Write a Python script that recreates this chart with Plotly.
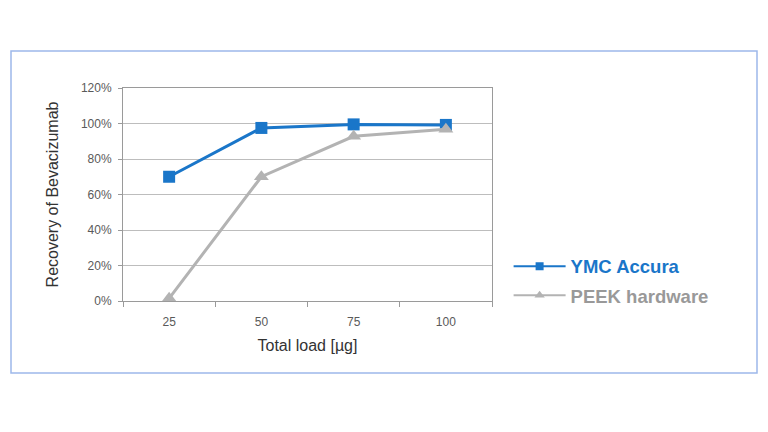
import plotly.graph_objects as go

loads = ["25", "50", "75", "100"]
ymc_accura = [70, 97.5, 99.5, 99.2]
peek_hardware = [1.5, 70, 92.8, 96.8]
y_ticks = [0, 20, 40, 60, 80, 100, 120]
y_tick_labels = ["0%", "20%", "40%", "60%", "80%", "100%", "120%"]

blue = "#1a76c9"
gray = "#b3b3b3"

series = [
    ("YMC Accura", ymc_accura, blue, blue, "square", 12, 8),
    ("PEEK hardware", peek_hardware, gray, "#999999", "triangle-up", 13, 9),
]

fig = go.Figure()
for i, (name, vals, col, txtcol, sym, msize, lsize) in enumerate(series):
    fig.add_trace(go.Scatter(
        x=loads, y=vals, mode="lines+markers", name=name, showlegend=False,
        line=dict(color=col, width=3),
        marker=dict(symbol=sym, size=msize, color=col),
    ))
    # legend entry (thinner line, smaller marker as in the reference)
    fig.add_trace(go.Scatter(
        x=[None], y=[None], mode="lines+markers",
        name="<b><span style='color:%s'>%s</span></b>" % (txtcol, name),
        legendgroup="g%d" % i,
        line=dict(color=col, width=2),
        marker=dict(symbol=sym, size=lsize, color=col),
    ))

axis_font = dict(family="Liberation Sans, Arial", size=12, color="#5a5a5a")
title_font = dict(family="Liberation Sans, Arial", size=16, color="#333333")
fig.update_layout(
    width=768, height=432,
    margin=dict(l=123, r=276, t=88, b=131),
    paper_bgcolor="white", plot_bgcolor="white",
    font=dict(family="Liberation Sans, Arial"),
    showlegend=True,
    legend=dict(
        x=1.045, y=0.25, xanchor="left", yanchor="top",
        font=dict(family="Liberation Sans, Arial", size=18.5, color="#999999"),
        tracegroupgap=2, itemwidth=52,
        bgcolor="rgba(0,0,0,0)",
    ),
    xaxis=dict(
        type="category", tickson="boundaries", ticks="outside", ticklen=5,
        tickcolor="#9a9a9a", showline=True, linecolor="#9a9a9a", linewidth=1,
        mirror=True, showgrid=False, tickfont=axis_font, ticklabelstandoff=10,
        title=dict(text="Total load [µg]", font=title_font, standoff=11),
        range=[-0.5, 3.5],
    ),
    yaxis=dict(
        range=[0, 120], tickvals=y_ticks, ticktext=y_tick_labels,
        ticks="outside", ticklen=4, tickcolor="#9a9a9a",
        showline=True, linecolor="#9a9a9a", linewidth=1, mirror=True,
        showgrid=True, gridcolor="#bdbdbd", gridwidth=1,
        zeroline=False, tickfont=axis_font, ticklabelstandoff=4,
        title=dict(text="Recovery of Bevacizumab", font=title_font, standoff=18),
    ),
    shapes=[dict(
        type="rect", xref="paper", yref="paper",
        x0=(11 - 123) / 369, x1=(757 - 123) / 369,
        y0=(301 - 373) / 213, y1=(301 - 51) / 213,
        line=dict(color="#9db8ea", width=1.5), fillcolor="rgba(0,0,0,0)",
        layer="below",
    )],
)

fig.write_html("out.html")
